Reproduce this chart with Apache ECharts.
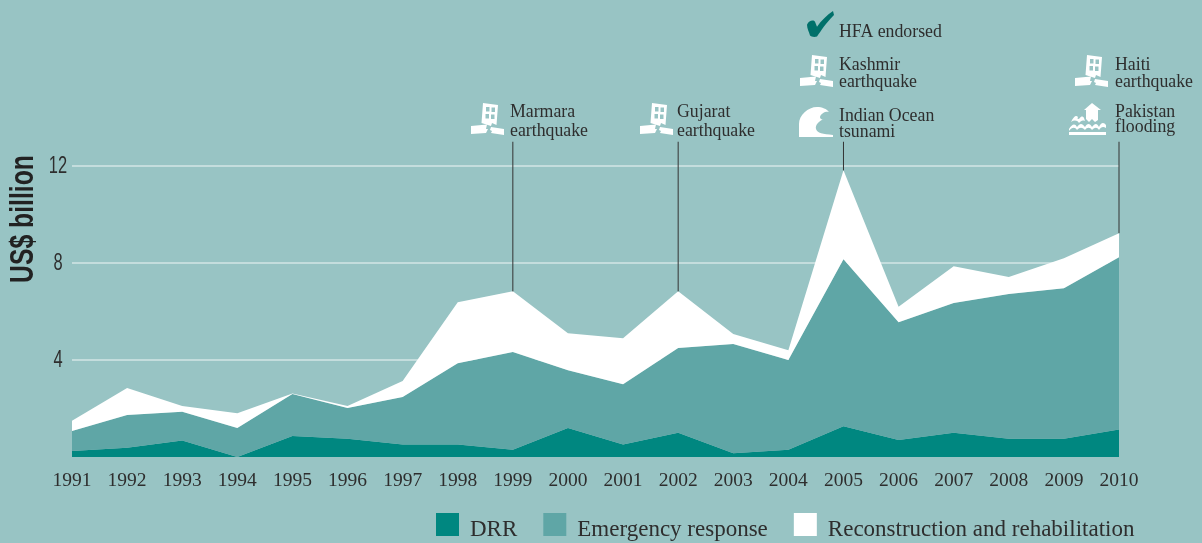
<!DOCTYPE html>
<html>
<head>
<meta charset="utf-8">
<style>html,body{margin:0;padding:0;background:#98c4c4}#c{width:1202px;height:543px}</style>
<script src="https://cdn.jsdelivr.net/npm/echarts@6/dist/echarts.min.js"></script>
</head>
<body>
<div id="c"></div>
<script>
const years = ['1991','1992','1993','1994','1995','1996','1997','1998','1999','2000','2001','2002','2003','2004','2005','2006','2007','2008','2009','2010'];
const drr = [0.25,0.38,0.68,0,0.87,0.75,0.52,0.52,0.30,1.20,0.52,1.00,0.15,0.30,1.27,0.70,1.00,0.75,0.75,1.13];
const emergency = [0.82,1.35,1.19,1.20,1.73,1.27,1.95,3.35,4.03,2.38,2.48,3.50,4.51,3.70,6.88,4.86,5.35,5.97,6.21,7.11];
const reconstruction = [0.43,1.12,0.23,0.60,0.02,0.08,0.66,2.51,2.50,1.52,1.90,2.33,0.41,0.40,3.67,0.64,1.52,0.70,1.24,0.99];
const leaderYears = ['1999','2002','2005','2010'];
const leaderTop = 13;
const yTicks = [4,8,12];

const SERIF = '"Liberation Serif", serif';
const SANS = '"Liberation Sans", sans-serif';
const INK = '#2e2e2e';

const total = i => drr[i] + emergency[i] + reconstruction[i];

const QUAKE = 'M12,0 L27,2 L25.5,22 L21,20 L20,23 L10.5,20 Z M15,4 L15,8.5 L18.5,8.5 L18.5,4 Z M20.5,4.5 L20.5,9 L24,9 L24,4.5 Z M14.5,11 L14.5,15.5 L18,15.5 L18,11 Z M20,11.5 L20,16 L23.5,16 L23.5,11.5 Z ' +
  'M0,23 L16,21.5 L15,26 L17,26 L15,30 L0,31 Z M20,24 L33,26 L33,32 L20,30 L21,28 L19,27 Z';
const WAVE = 'M0,30 L0,17 C0,8 9,0 18,0 C23,0 28,2 30,5 C27,4 22,6 21,10 C21,12 23,13 25,12 C20,14 16,18 17,22 C18,26 24,27 34,28 L34,30 Z';
const FLOOD = 'M23,0 L32,7 L29,7 L29,17 L26,19 L23,16 L20,19 L17,16 L17,7 L15,7 Z ' +
  'M2,19 C5,13 7,12 9,14 C8,16 9,17 11,15 C12,13 14,13 15,15 L16,18 C13,17 12,18 10,20 C8,17 5,17 2,19 Z ' +
  'M0,26 C3,21 6,20 8,24 C11,20 13,20 16,24 C18,20 21,20 23,24 C26,20 28,20 30,24 C32,19 35,19 37,22 L37,25 C34,23 32,24 30,27 C28,24 26,24 23,27 C21,24 18,24 16,27 C13,24 11,24 8,27 C6,24 3,24 0,28 Z ' +
  'M0,29 L37,29 L37,32 L0,32 Z';
const CHECK = 'M1,14 C3,9 8,9 9,11 L11,16 C15,10 21,4 27,0 L28,4 C20,12 15,20 11,26 C8,27 5,26 4,25 C3,21 1,18 1,14 Z';

const icons = [
  [CHECK, 807, 11, 27, 26, '#00706a'],
  [QUAKE, 800, 55, 33, 32, '#fff'],
  [WAVE, 799, 107, 34, 30, '#fff'],
  [QUAKE, 1075, 55, 33, 32, '#fff'],
  [FLOOD, 1069, 103, 37, 32, '#fff'],
  [QUAKE, 471, 103, 33, 32, '#fff'],
  [QUAKE, 640, 103, 33, 32, '#fff']
];
const note = (t, x, y, lh) => ({type:'text', silent:true, x, y, style:{text:t, font:'17.8px '+SERIF, fill:INK, lineHeight:lh || 17, verticalAlign:'middle', textVerticalAlign:'middle'}});

const chart = echarts.init(document.getElementById('c'), null, {renderer:'canvas'});
chart.setOption({
  backgroundColor:'#98c4c4',
  animation:false,
  grid:{left:72, right:83, top:166, bottom:86, containLabel:false, outerBoundsMode:'none'},
  legend:{
    left:436, top:513, padding:0, itemWidth:23, itemHeight:23, itemGap:26, icon:'rect',
    selectedMode:false,
    data:['DRR','Emergency response','Reconstruction and rehabilitation'],
    formatter:n => '{t|' + n + '}',
    textStyle:{fontFamily:SERIF, fontSize:23, color:INK,
      rich:{t:{fontFamily:SERIF, fontSize:23, color:INK, padding:[10,0,0,6]}}}
  },
  xAxis:{
    type:'category', data:years, boundaryGap:false,
    axisLine:{show:false}, axisTick:{show:false}, splitLine:{show:false},
    axisLabel:{fontFamily:SERIF, fontSize:19.5, color:INK, margin:14, interval:0, hideOverlap:false, showMinLabel:true, showMaxLabel:true}
  },
  yAxis:{
    type:'value', min:0, max:12, interval:4,
    axisLine:{show:false}, axisTick:{show:false},
    axisLabel:{show:false},
    splitLine:{show:true, showMinLine:false, lineStyle:{color:'#d3e6e6', width:1.5}}
  },
  series:[
    {name:'DRR', type:'line', stack:'a', data:drr, showSymbol:false, lineStyle:{width:0}, itemStyle:{color:'#008780'}, areaStyle:{color:'#008780', opacity:1}},
    {name:'Emergency response', type:'line', stack:'a', data:emergency, showSymbol:false, lineStyle:{width:0}, itemStyle:{color:'#5fa6a6'}, areaStyle:{color:'#5fa6a6', opacity:1}},
    {name:'Reconstruction and rehabilitation', type:'line', stack:'a', data:reconstruction, showSymbol:false, lineStyle:{width:0}, itemStyle:{color:'#ffffff'}, areaStyle:{color:'#ffffff', opacity:1}},
    {type:'custom', silent:true, clip:false, z:5,
     data:leaderYears.map(y => [y, total(years.indexOf(y)), leaderTop]),
     renderItem:(p, api) => {
       const a = api.coord([api.value(0), api.value(1)]);
       const b = api.coord([api.value(0), api.value(2)]);
       return {type:'line', shape:{x1:a[0], y1:a[1], x2:b[0], y2:b[1]}, style:{stroke:'#333', lineWidth:1}};
     }},
    {type:'custom', silent:true, clip:false, z:5,
     data:yTicks.map(v => [years[0], v]),
     renderItem:(p, api) => {
       const a = api.coord([api.value(0), api.value(1)]);
       return {type:'text', x:a[0]-14, y:a[1]+1, scaleX:0.7, style:{text:String(api.value(1)), font:'23.5px '+SANS, fill:INK, textAlign:'center', textVerticalAlign:'middle'}};
     }},
    {type:'custom', silent:true, coordinateSystem:'none', z:6,
     data:icons.map((c, i) => [i]),
     renderItem:(p) => {
       const c = icons[p.dataIndex];
       return {type:'path', shape:{pathData:c[0], layout:'cover', x:c[1], y:c[2], width:c[3], height:c[4]}, style:{fill:c[5]}};
     }}
  ],
  graphic:[
    {type:'text', silent:true, x:23.5, y:219, rotation:Math.PI/2, scaleX:0.75,
     style:{text:'US$ billion', font:'bold 33px '+SANS, fill:'#222', textAlign:'center', textVerticalAlign:'middle'}},
    note('HFA endorsed', 839, 32),
    note('Kashmir\nearthquake', 839, 74),
    note('Indian Ocean\ntsunami', 839, 124, 16),
    note('Haiti\nearthquake', 1115, 74),
    note('Pakistan\nflooding', 1115, 120, 15),
    note('Marmara\nearthquake', 510, 122, 19),
    note('Gujarat\nearthquake', 677, 122, 19)
  ]
});
</script>
</body>
</html>
